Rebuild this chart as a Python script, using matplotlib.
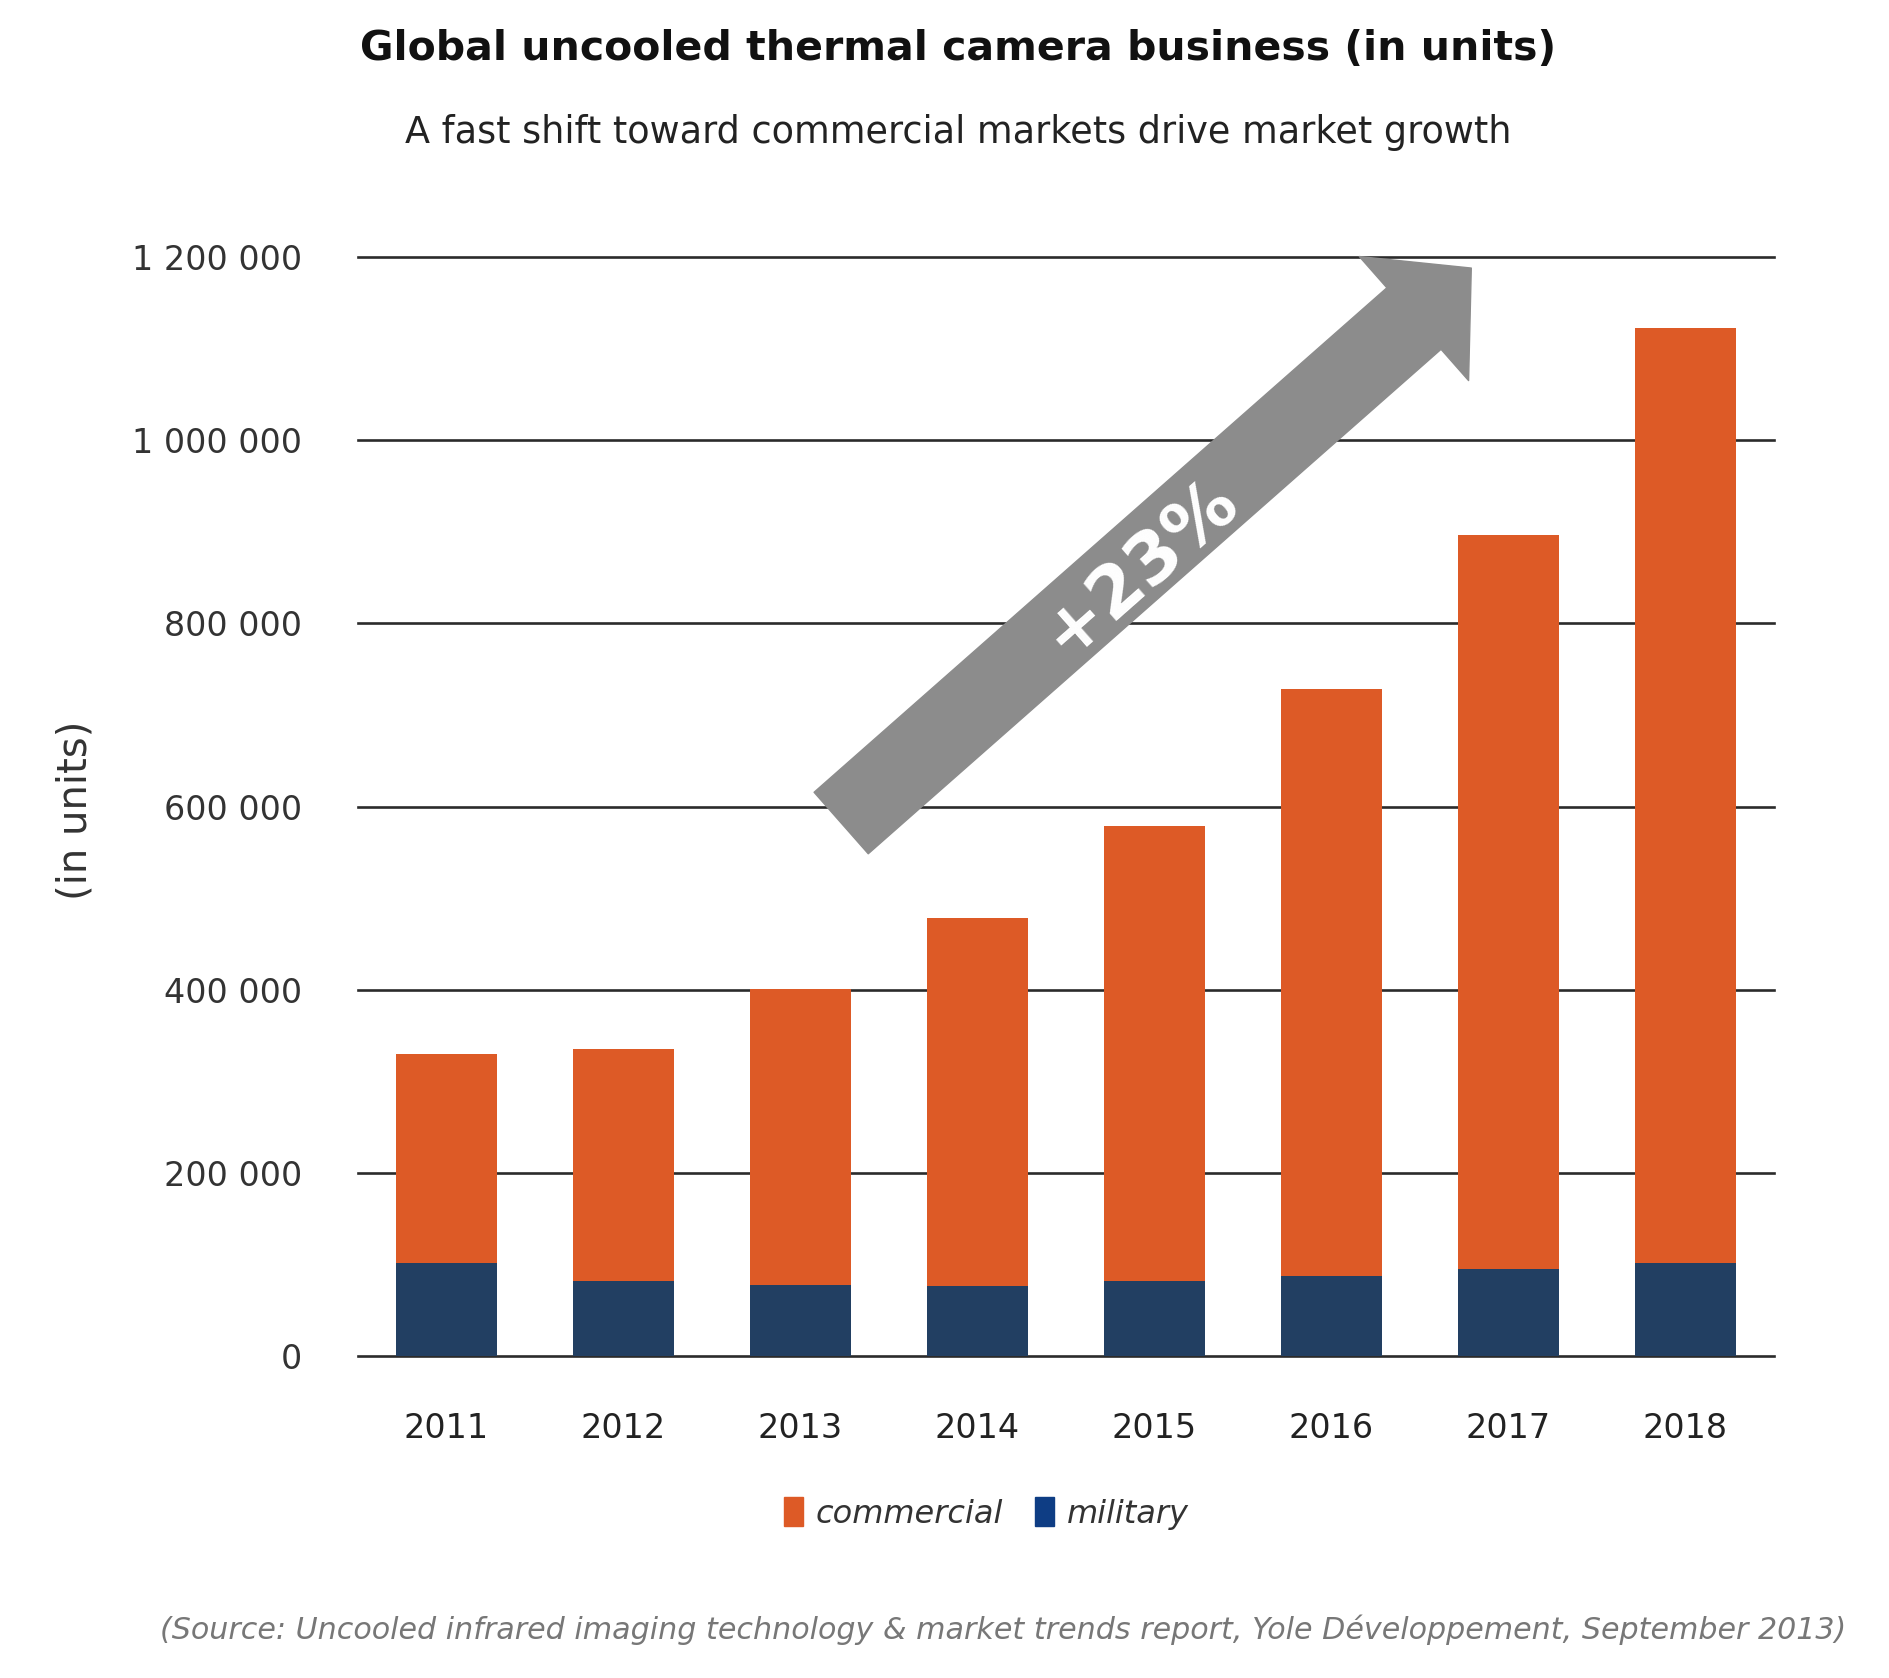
import matplotlib
matplotlib.use("Agg")
import matplotlib.pyplot as plt
from matplotlib.patches import Patch
from matplotlib.ticker import FuncFormatter

years = ["2011", "2012", "2013", "2014", "2015", "2016", "2017", "2018"]
military = [101000, 82000, 78000, 76000, 82000, 87000, 95000, 101000]
total = [330000, 335000, 401000, 478000, 579000, 728000, 897000, 1122000]
commercial = [t - m for t, m in zip(total, military)]
y_ticks = [0, 200000, 400000, 600000, 800000, 1000000, 1200000]
cagr_label = "+23%"

orange = "#DD5A26"
navy = "#223F62"
grey_arrow = "#8C8C8C"

fig = plt.figure(figsize=(18.9, 16.78), dpi=100)
ax = fig.add_axes([0.1894, 0.1919, 0.7492, 0.6549])

x = range(len(years))
ax.bar(x, military, width=0.57, color=navy, zorder=3)
ax.bar(x, commercial, width=0.57, bottom=military, color=orange, zorder=3)

ax.set_xlim(-0.5, 7.5)
ax.set_ylim(0, 1200000)
ax.set_yticks(y_ticks)
ax.yaxis.set_major_formatter(FuncFormatter(lambda v, p: f"{int(v):,}".replace(",", " ")))
ax.set_xticks(list(x))
ax.set_xticklabels(years)
for y in y_ticks:
    ax.axhline(y, color="#2b2b2b", lw=1.9, zorder=1, clip_on=False)
for s in ax.spines.values():
    s.set_visible(False)
ax.tick_params(axis="y", length=0, pad=40, labelsize=24, labelcolor="#333333")
ax.tick_params(axis="x", length=0, pad=40, labelsize=24, labelcolor="#222222")

# growth arrow (data coords for the ends, point units for the shape)
ax.annotate("", xy=(5.79, 1188000), xytext=(2.23, 582000),
            arrowprops=dict(arrowstyle="simple,head_length=55,head_width=119,tail_width=59",
                            mutation_scale=1, color=grey_arrow, shrinkA=0, shrinkB=0),
            annotation_clip=False, zorder=4)
ax.text(3.92, 861000, cagr_label, color="white", fontsize=52, fontweight="bold",
        rotation=41.4, rotation_mode="anchor", ha="center", va="center", zorder=5)

fig.text(0.0397, 0.517, "(in units)", rotation=90, ha="center", va="center",
         fontsize=29, color="#333333")

fig.text(0.507, 0.971, "Global uncooled thermal camera business (in units)",
         ha="center", va="center", fontsize=29.5, fontweight="bold", color="#111111")
fig.text(0.507, 0.921, "A fast shift toward commercial markets drive market growth",
         ha="center", va="center", fontsize=26.4, color="#222222")

handles = [Patch(color=orange, label="commercial"), Patch(color="#0E3D84", label="military")]
leg = fig.legend(handles=handles, loc="center", bbox_to_anchor=(0.522, 0.098), ncol=2,
                 frameon=False, prop={"size": 23, "style": "italic"},
                 handlelength=0.6, handleheight=1.0, handletextpad=0.4, columnspacing=1.0)
for t in leg.get_texts():
    t.set_color("#333333")

fig.text(0.531, 0.029,
         "(Source: Uncooled infrared imaging technology & market trends report, "
         "Yole Développement, September 2013)",
         ha="center", va="center", fontsize=21.7, style="italic", color="#777777")

fig.savefig("out.png", dpi=100)
